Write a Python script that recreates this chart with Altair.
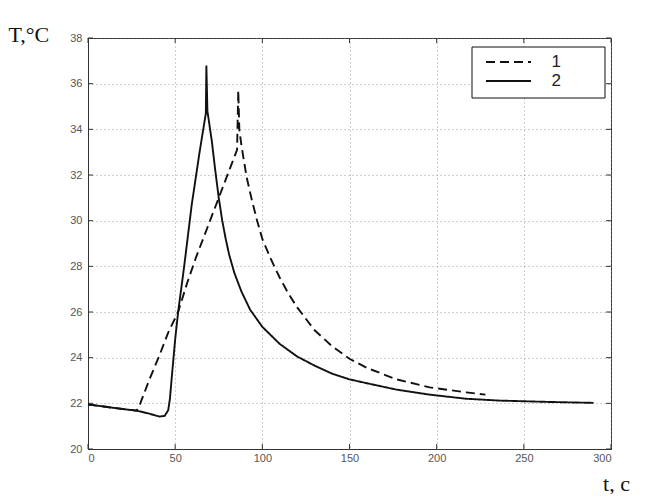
import altair as alt
import pandas as pd

# Curve 1 (dashed)
t1 = [0, 10, 20, 28, 30, 35, 41, 46, 51.7, 57, 62, 68, 73, 78, 82, 85.5, 86.2, 86.8, 88, 91, 94, 97,
      100, 105, 110, 115, 120, 130, 140, 150, 160, 177, 196, 217, 228]
T1 = [21.95, 21.85, 21.75, 21.68, 22.0, 23.0, 24.1, 25.1, 26.0, 27.3, 28.4, 29.6, 30.6, 31.6, 32.4,
      33.1, 35.7, 34.0, 33.3, 31.9, 30.9, 30.0, 29.2, 28.3, 27.5, 26.8, 26.2, 25.2, 24.5, 23.95,
      23.55, 23.05, 22.7, 22.48, 22.38]

# Curve 2 (solid)
t2 = [0, 10, 20, 28, 35, 41, 44, 46, 47, 48, 50, 51.7, 55, 59.5, 64, 67.6, 67.9, 68.5, 71, 73, 75,
      77, 79, 81, 84, 88, 93, 100, 110, 120, 130, 140, 150, 160, 177, 196, 217, 236, 265, 290]
T2 = [21.95, 21.85, 21.75, 21.68, 21.55, 21.42, 21.45, 21.7, 22.2, 23.1, 24.8, 26.0, 27.9, 30.7,
      33.0, 34.7, 36.8, 34.8, 33.5, 32.2, 31.0, 30.0, 29.2, 28.5, 27.7, 26.9, 26.1, 25.35, 24.6,
      24.05, 23.65, 23.3, 23.05, 22.88, 22.6, 22.38, 22.2, 22.12, 22.06, 22.02]

x_ticks = [0, 50, 100, 150, 200, 250, 300]
y_ticks = [20, 22, 24, 26, 28, 30, 32, 34, 36, 38]
series_names = ["1", "2"]

df = pd.concat([
    pd.DataFrame({"t": t1, "T": T1, "series": series_names[0]}),
    pd.DataFrame({"t": t2, "T": T2, "series": series_names[1]}),
])

W, H = 523, 411

xscale = alt.Scale(domain=[0, 300], nice=False)
yscale = alt.Scale(domain=[20, 38], nice=False, zero=False)

lines = alt.Chart(df).mark_line(color="#111", strokeWidth=1.9).encode(
    x=alt.X("t:Q", scale=xscale,
            axis=alt.Axis(values=x_ticks, title="t, c", titleX=528, titleY=41,
                          titleAlign="center", titleBaseline="alphabetic",
                          labelPadding=3)),
    y=alt.Y("T:Q", scale=yscale,
            axis=alt.Axis(values=y_ticks, title="T,°C", titleAngle=0, titleX=-80, titleY=3,
                          titleAlign="left", titleBaseline="alphabetic",
                          labelPadding=6)),
    strokeDash=alt.StrokeDash(
        "series:N",
        scale=alt.Scale(domain=series_names, range=[[9, 5], [1, 0]]),
        legend=alt.Legend(
            title=None, orient="none", legendX=384, legendY=9,
            padding=5,
            symbolType="M-2.5,0L2.5,0", symbolSize=324, symbolStrokeWidth=1.8,
            symbolStrokeColor="#111", symbolFillColor="transparent",
            symbolOffset=21.5,
            labelFontSize=17, labelFont="Liberation Sans",
            labelColor="#222", labelOffset=33, rowPadding=1,
        ),
    ),
)

# legend frame
frame = alt.Chart(pd.DataFrame({"k": [0]})).mark_rect(
    fill="white", stroke="#111", strokeWidth=1
).encode(x=alt.value(384), x2=alt.value(517), y=alt.value(9), y2=alt.value(60))

xt = pd.DataFrame({"t": x_ticks})
yt = pd.DataFrame({"T": y_ticks})
tick_col = "#333"
xb = alt.Chart(xt).mark_rule(color=tick_col).encode(x="t:Q", y=alt.value(H), y2=alt.value(H - 5))
xtop = alt.Chart(xt).mark_rule(color=tick_col).encode(x="t:Q", y=alt.value(0), y2=alt.value(5))
yl = alt.Chart(yt).mark_rule(color=tick_col).encode(y="T:Q", x=alt.value(0), x2=alt.value(5))
yr = alt.Chart(yt).mark_rule(color=tick_col).encode(y="T:Q", x=alt.value(W), x2=alt.value(W - 5))

chart = alt.layer(xb, xtop, yl, yr, frame, lines).properties(
    width=W, height=H,
    autosize=alt.AutoSizeParams(type="none"),
    padding={"left": 80, "top": 30, "right": 52, "bottom": 45},
    background="white",
).configure_view(
    stroke="#333", strokeWidth=1
).configure_axis(
    grid=True, gridDash=[1, 3], gridColor="#888", gridOpacity=0.8,
    domainColor="#333", ticks=False,
    labelFont="Liberation Sans", labelFontSize=11, labelColor="#555",
    titleFont="Liberation Serif", titleFontSize=22, titleFontWeight="normal", titleColor="#111",
)

chart.save("out.html", embed_options={"renderer": "svg", "actions": False})
